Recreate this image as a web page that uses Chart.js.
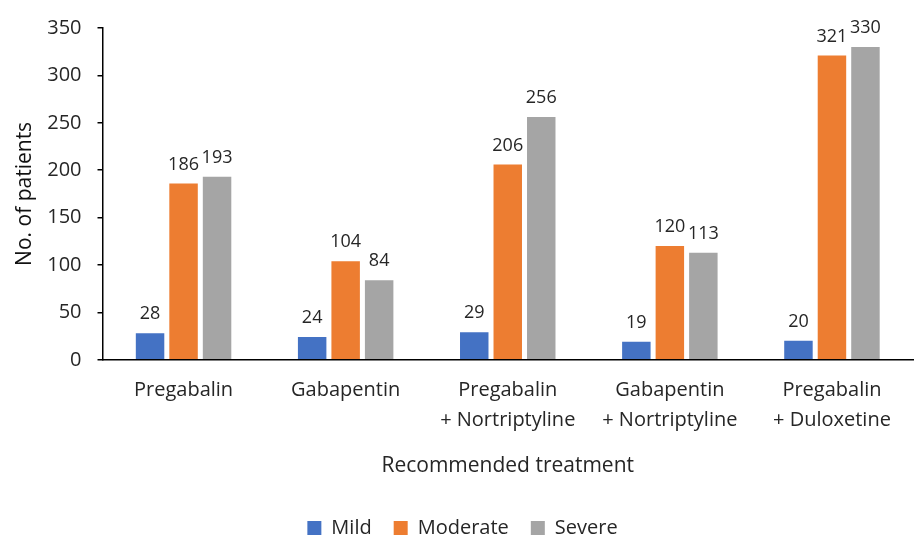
<!DOCTYPE html>
<html>
<head>
<meta charset="utf-8">
<script src="https://cdn.jsdelivr.net/npm/chart.js@4"></script>
<style>
  html, body { margin: 0; padding: 0; background: #fff; }
  #wrap { width: 917px; height: 539px; }
</style>
</head>
<body>
<div id="wrap"><canvas id="chart"></canvas></div>
<script>
// Data
const treatments = [
    ['Pregabalin'],
    ['Gabapentin'],
    ['Pregabalin', '+ Nortriptyline'],
    ['Gabapentin', '+ Nortriptyline'],
    ['Pregabalin', '+ Duloxetine']
];
const mild = [28, 24, 29, 19, 20];
const moderate = [186, 104, 206, 120, 321];
const severe = [193, 84, 256, 113, 330];
const yTicks = [0, 50, 100, 150, 200, 250, 300, 350];

const FONT = "'Open Sans', 'Noto Sans', sans-serif";
const TEXT = '#262626';

// draws the value above every bar
const barLabels = {
    id: 'barLabels',
    afterDatasetsDraw(chart) {
        const ctx = chart.ctx;
        ctx.save();
        ctx.font = `18px ${FONT}`;
        ctx.fillStyle = TEXT;
        ctx.textAlign = 'center';
        ctx.textBaseline = 'bottom';
        chart.data.datasets.forEach((ds, i) => {
            chart.getDatasetMeta(i).data.forEach((bar, j) => {
                ctx.fillText(ds.data[j], bar.x, bar.y - 10);
            });
        });
        ctx.restore();
    }
};

const ctx = document.getElementById('chart').getContext('2d');
new Chart(ctx, {
    type: 'bar',
    data: {
        labels: treatments,
        datasets: [
            { label: 'Mild', data: mild, backgroundColor: '#4472C4' },
            { label: 'Moderate', data: moderate, backgroundColor: '#ED7D31' },
            { label: 'Severe', data: severe, backgroundColor: '#A5A5A5' }
        ]
    },
    options: {
        responsive: true,
        maintainAspectRatio: false,
        animation: false,
        layout: { padding: { top: 14, right: 4, left: 12, bottom: -9 } },
        datasets: {
            bar: { categoryPercentage: 0.62, barPercentage: 0.85 }
        },
        scales: {
            x: {
                grid: { display: true, drawOnChartArea: false, drawTicks: false },
                border: { color: '#000', width: 1.5 },
                ticks: { color: TEXT, font: { family: FONT, size: 20, lineHeight: 1.5 }, padding: 15, maxRotation: 0 },
                title: {
                    display: true,
                    text: 'Recommended treatment',
                    color: TEXT,
                    font: { family: FONT, size: 21 },
                    padding: { top: 4, bottom: 17 }
                }
            },
            y: {
                min: 0,
                max: 350,
                afterBuildTicks: (scale) => { scale.ticks = yTicks.map(v => ({ value: v })); },
                grid: { drawOnChartArea: false, color: '#000', tickLength: 5, lineWidth: 1.5 },
                border: { color: '#000', width: 1.5 },
                ticks: { color: TEXT, font: { family: FONT, size: 20 }, padding: 16 },
                title: {
                    display: true,
                    text: 'No. of patients',
                    color: '#111',
                    font: { family: FONT, size: 21 },
                    padding: { top: 0, bottom: -6 }
                }
            }
        },
        plugins: {
            legend: {
                position: 'bottom',
                labels: {
                    color: TEXT,
                    font: { family: FONT, size: 20 },
                    boxWidth: 14,
                    boxHeight: 14,
                    padding: 22
                }
            },
            tooltip: { enabled: false }
        }
    },
    plugins: [barLabels]
});
</script>
</body>
</html>
